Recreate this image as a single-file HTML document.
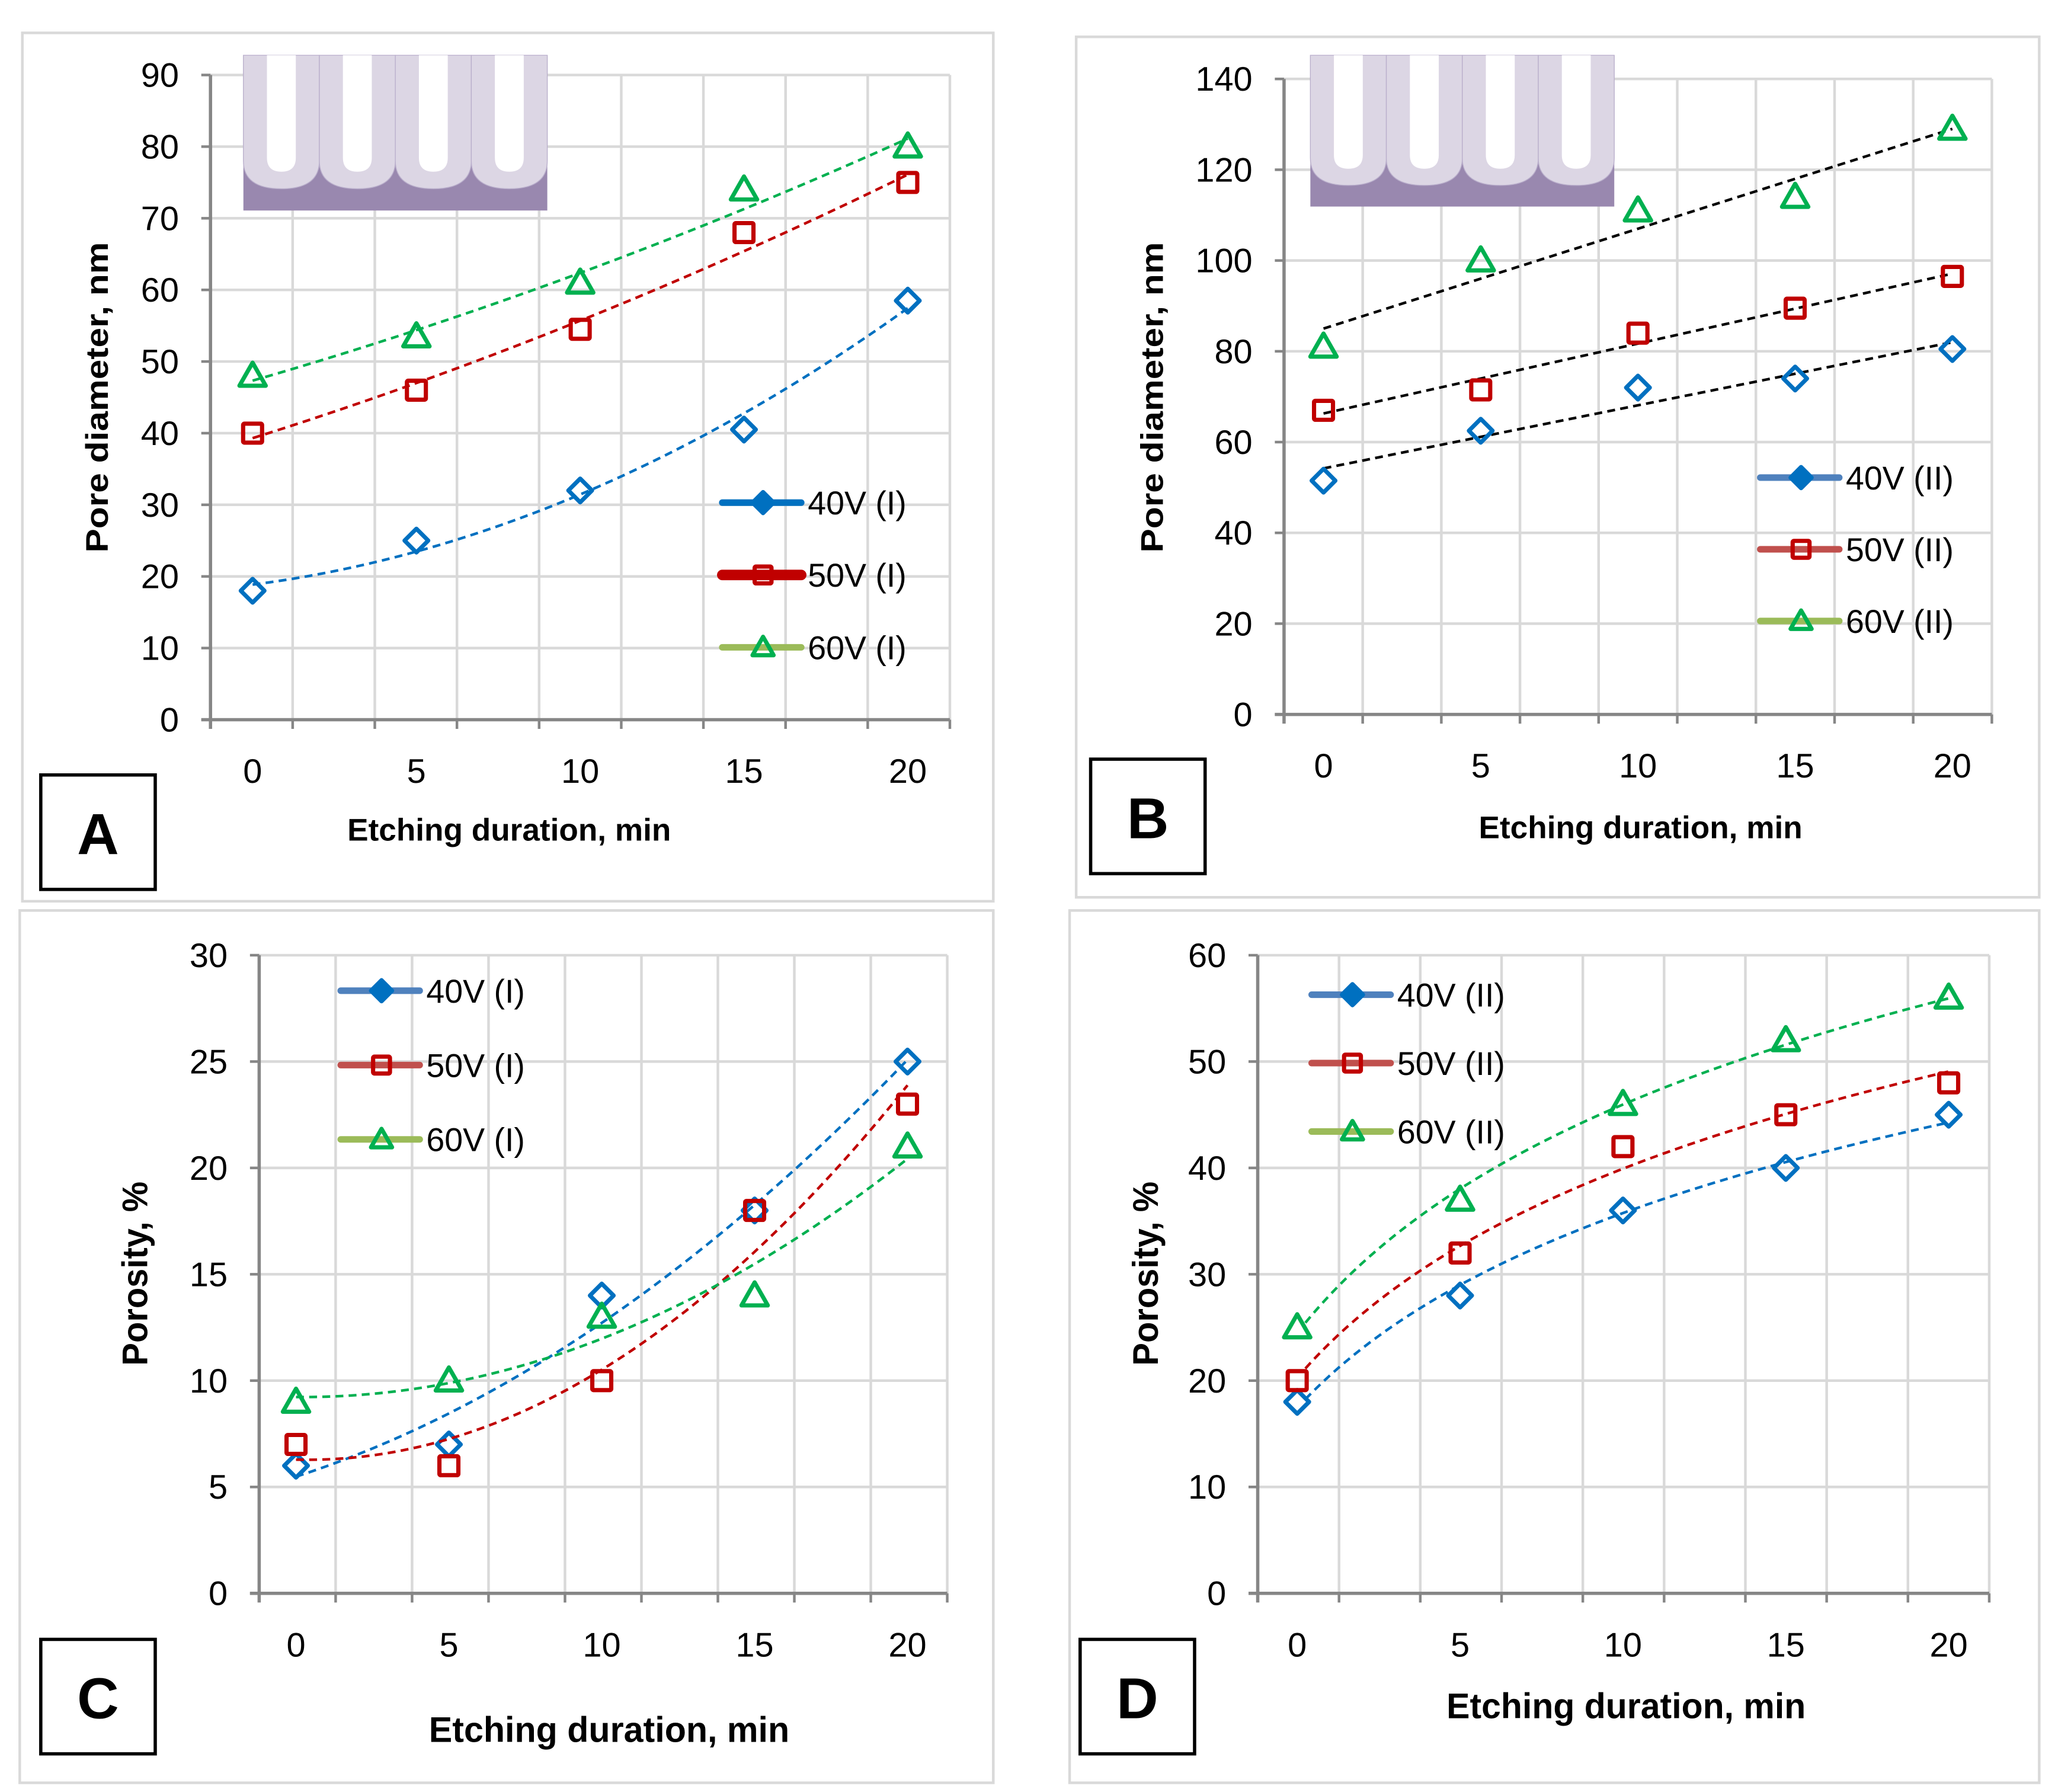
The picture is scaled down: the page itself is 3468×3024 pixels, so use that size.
<!DOCTYPE html>
<html><head><meta charset="utf-8"><style>
html,body{margin:0;padding:0;background:#fff;}
svg{display:block;}
text{font-family:"Liberation Sans","DejaVu Sans",sans-serif;}
</style></head><body>
<svg id="fig" xmlns="http://www.w3.org/2000/svg" width="3468" height="3024" viewBox="0 0 1562 1362" preserveAspectRatio="none"></svg>
<script>
// ===== data =====
const xCats = [0, 5, 10, 15, 20];
const aTicks = [0,10,20,30,40,50,60,70,80,90];
const a40 = [18, 25, 32, 40.5, 58.5];
const a50 = [40, 46, 54.5, 68, 75];
const a60 = [48, 53.5, 61, 74, 80];
const bTicks = [0,20,40,60,80,100,120,140];
const b40 = [51.5, 62.5, 72, 74, 80.5];
const b50 = [67, 71.5, 84, 89.5, 96.5];
const b60 = [81, 100, 111, 114, 129];
const cTicks = [0,5,10,15,20,25,30];
const c40 = [6, 7, 14, 18, 25];
const c50 = [7, 6, 10, 18, 23];
const c60 = [9, 10, 13, 14, 21];
const dTicks = [0,10,20,30,40,50,60];
const d40 = [18, 28, 36, 40, 45];
const d50 = [20, 32, 42, 45, 48];
const d60 = [25, 37, 46, 52, 56];
const legA = ["40V (I)", "50V (I)", "60V (I)"];
const legB = ["40V (II)", "50V (II)", "60V (II)"];

const NS = "http://www.w3.org/2000/svg";
const svg = document.getElementById('fig');
function el(tag, attrs, parent) {
  const e = document.createElementNS(NS, tag);
  for (const k in attrs) e.setAttribute(k, attrs[k]);
  (parent || svg).appendChild(e);
  return e;
}
function lsq(ys, basis) {
  const n = basis.length, M = [], v = [];
  for (let i = 0; i < n; i++) { M.push(new Array(n).fill(0)); v.push(0); }
  ys.forEach((y, k) => {
    const t = k + 1, f = basis.map(b => b(t));
    for (let i = 0; i < n; i++) { v[i] += f[i] * y; for (let j = 0; j < n; j++) M[i][j] += f[i] * f[j]; }
  });
  for (let i = 0; i < n; i++) {
    let p = i; for (let r = i + 1; r < n; r++) if (Math.abs(M[r][i]) > Math.abs(M[p][i])) p = r;
    [M[i], M[p]] = [M[p], M[i]]; [v[i], v[p]] = [v[p], v[i]];
    for (let r = 0; r < n; r++) if (r !== i) { const f = M[r][i] / M[i][i]; for (let c = 0; c < n; c++) M[r][c] -= f * M[i][c]; v[r] -= f * v[i]; }
  }
  const co = v.map((x, i) => x / M[i][i]);
  return t => basis.reduce((s, b, i) => s + co[i] * b(t), 0);
}
const POLY = [t => 1, t => t, t => t * t];
const LIN = [t => 1, t => t];
const LOG = [t => 1, t => Math.log(t)];

function marker(g, type, x, y, color, fill, s) {
  let m;
  if (type === 'd') m = el('polygon', {points: `${x},${y-s} ${x+s},${y} ${x},${y+s} ${x-s},${y}`, fill: fill, stroke: color, 'stroke-width': 3.2, 'stroke-linejoin': 'round'}, g);
  else if (type === 's') m = el('rect', {x: x-s*0.8, y: y-s*0.8, width: s*1.6, height: s*1.6, fill: fill, stroke: color, 'stroke-width': 3.2, rx: 1}, g);
  else m = el('polygon', {points: `${x},${y-s} ${x+s},${y+s*0.75} ${x-s},${y+s*0.75}`, fill: fill, stroke: color, 'stroke-width': 3.2, 'stroke-linejoin': 'round'}, g);
  return m;
}
function inset(x0, y0, w, h, name) {
  const g = el('g', {});
  
  
  el('rect', {x: x0, y: y0, width: w, height: h, fill: '#9988AF'}, g);
  const cw = w / 4;
  for (let i = 0; i < 4; i++) {
    const cx = x0 + i * cw, bot = y0 + h * 0.86;
    el('path', {d: `M${cx},${y0} H${cx+cw} V${y0+h*0.68} Q${cx+cw},${bot} ${cx+cw/2},${bot} Q${cx},${bot} ${cx},${y0+h*0.68} Z`, fill: '#DCD6E4', stroke: '#B9AECB', 'stroke-width': 0.6}, g);
    const pw = cw * 0.38, px = cx + cw / 2, pb = y0 + h * 0.75;
    el('path', {d: `M${px-pw/2},${y0} H${px+pw/2} V${y0+h*0.66} Q${px+pw/2},${pb} ${px},${pb} Q${px-pw/2},${pb} ${px-pw/2},${y0+h*0.66} Z`, fill: '#fff'}, g);
  }
}

function panel(cfg) {
  const g = el('g', {});
  
  
  el('rect', {x: cfg.frame[0], y: cfg.frame[1], width: cfg.frame[2]-cfg.frame[0], height: cfg.frame[3]-cfg.frame[1], fill: '#fff', stroke: '#D9D9D9', 'stroke-width': 2}, g);
  const [L, R, T, B] = cfg.plot;
  const ymax = cfg.ticks[cfg.ticks.length - 1];
  const ys = v => B - (v / ymax) * (B - T);
  const xs = i => cfg.x0 + i * cfg.dx;
  const ng = cfg.vgrid;
  for (let k = 1; k <= ng; k++) {
    const gx = L + (R - L) * k / ng;
    el('line', {x1: gx, y1: T, x2: gx, y2: B, stroke: '#D9D9D9', 'stroke-width': 2}, g);
    el('line', {x1: gx, y1: B, x2: gx, y2: B + 7, stroke: '#868686', 'stroke-width': 2}, g);
  }
  cfg.ticks.forEach(t => {
    const y = ys(t);
    if (t > 0) el('line', {x1: L, y1: y, x2: R, y2: y, stroke: '#D9D9D9', 'stroke-width': 2}, g);
    el('line', {x1: L - 7, y1: y, x2: L, y2: y, stroke: '#868686', 'stroke-width': 2}, g);
    const tl = el('text', {x: L - 24, y: y + 9, 'text-anchor': 'end', 'font-size': 26, fill: '#000'}, g);
    
    
    tl.textContent = t;
  });
  el('line', {x1: L, y1: T, x2: L, y2: B + 7, stroke: '#868686', 'stroke-width': 2.5}, g);
  el('line', {x1: L - 7, y1: B, x2: R, y2: B, stroke: '#868686', 'stroke-width': 2.5}, g);
  xCats.forEach((c, i) => {
    const tl = el('text', {x: xs(i), y: B + cfg.xlabOff, 'text-anchor': 'middle', 'font-size': 26, fill: '#000'}, g);
    
    
    tl.textContent = c;
  });
  const xt = el('text', {x: cfg.xtitle[0], y: cfg.xtitle[1], 'text-anchor': 'middle', 'font-size': cfg.tfs, 'font-weight': 'bold', fill: '#000', textLength: cfg.xtitle[2], lengthAdjust: 'spacingAndGlyphs'}, g);
  
  
  xt.textContent = 'Etching duration, min';
  const yt = el('text', {x: 0, y: 0, transform: `translate(${cfg.ytitle[0]},${cfg.ytitle[1]}) rotate(-90)`, 'text-anchor': 'middle', 'font-size': cfg.tfs, 'font-weight': 'bold', fill: '#000', textLength: cfg.ytitle[2], lengthAdjust: 'spacingAndGlyphs'}, g);
  
  
  yt.textContent = cfg.ytext;
  if (cfg.inset) inset(cfg.inset[0], cfg.inset[1], cfg.inset[2], cfg.inset[3], 'sem-inset');
  const types = ['d', 's', 't'];
  const mcol = ['#0070C0', '#C00000', '#00B050'];
  const tcol = cfg.trendCol;
  cfg.series.forEach((ser, si) => {
    const sg = el('g', {}, g);
    
    
    const f = lsq(ser, cfg.basis);
    const pts = [];
    const t0 = cfg.basis === LOG ? 1.05 : 1;
    for (let k = 0; k <= 80; k++) { const t = t0 + (5 - t0) * k / 80; pts.push(`${xs(t-1).toFixed(2)},${ys(f(t)).toFixed(2)}`); }
    const tr = el('polyline', {points: pts.join(' '), fill: 'none', stroke: tcol[si], 'stroke-width': 2, 'stroke-dasharray': '6,4'}, sg);
    
    
    ser.forEach((v, i) => {
      const m = marker(sg, types[si], xs(i), ys(v), mcol[si], 'none', si === 2 ? 10 : 9);
      
      
    });
  });
  const lcol = cfg.legCol;
  cfg.legend.forEach((lab, i) => {
    const lg = el('g', {}, g);
    
    
    const [lx, ly] = [cfg.leg[0], cfg.leg[1] + i * cfg.leg[2]];
    el('line', {x1: lx, y1: ly, x2: lx + 60, y2: ly, stroke: lcol[i], 'stroke-width': i === 1 && cfg.boldRed ? 8 : 5, 'stroke-linecap': 'round'}, lg);
    marker(lg, types[i], lx + 31, ly, mcol[i], i === 0 ? mcol[0] : 'none', 8);
    const t = el('text', {x: lx + 65, y: ly + 9, 'font-size': 25, fill: '#000'}, lg);
    t.textContent = lab;
  });
  const bx = cfg.box;
  el('rect', {x: bx[0], y: bx[1], width: 87, height: 87, fill: '#fff', stroke: '#000', 'stroke-width': 2.5}, g);
  const bl = el('text', {x: bx[0] + 43.5, y: bx[1] + 60, 'text-anchor': 'middle', 'font-size': 44, 'font-weight': 'bold', fill: '#000'}, g);
  
  
  bl.textContent = cfg.letter;
}

panel({name: 'panel-a', frame: [17,25,755,685], plot: [160,722,57,547], ticks: aTicks, x0: 192, dx: 124.5, vgrid: 9,
  series: [a40, a50, a60], basis: POLY, trendCol: ['#0070C0','#C00000','#00B050'], legCol: ['#0070C0','#C00000','#9BBB59'], boldRed: true,
  legend: legA, leg: [549, 382, 55], box: [31,589], letter: 'A', tfs: 24, xtitle: [387, 639, 246], ytitle: [82, 302, 236], ytext: 'Pore diameter, nm', xlabOff: 48,
  inset: [185, 42, 231, 118]});
panel({name: 'panel-b', frame: [818,28,1550,682], plot: [976,1514,60,543], ticks: bTicks, x0: 1006, dx: 119.5, vgrid: 9,
  series: [b40, b50, b60], basis: LIN, trendCol: ['#000','#000','#000'], legCol: ['#4F81BD','#C0504D','#9BBB59'],
  legend: legB, leg: [1338, 363, 54.5], box: [829,577], letter: 'B', tfs: 24, xtitle: [1247, 637, 246], ytitle: [884, 302, 236], ytext: 'Pore diameter, nm', xlabOff: 48,
  inset: [996, 42, 231, 115]});
panel({name: 'panel-c', frame: [15,692,755,1355], plot: [197,720,726,1211], ticks: cTicks, x0: 225, dx: 116.2, vgrid: 9,
  series: [c40, c50, c60], basis: POLY, trendCol: ['#0070C0','#C00000','#00B050'], legCol: ['#4F81BD','#C0504D','#9BBB59'],
  legend: legA, leg: [259, 753, 56.5], box: [31,1246], letter: 'C', tfs: 27, xtitle: [463, 1324, 274], ytitle: [112, 968, 140], ytext: 'Porosity, %', xlabOff: 48});
panel({name: 'panel-d', frame: [813,692,1550,1355], plot: [956,1512,726,1211], ticks: dTicks, x0: 986, dx: 123.8, vgrid: 9,
  series: [d40, d50, d60], basis: LOG, trendCol: ['#0070C0','#C00000','#00B050'], legCol: ['#4F81BD','#C0504D','#9BBB59'],
  legend: legB, leg: [997, 756, 52], box: [821,1246], letter: 'D', tfs: 27, xtitle: [1236, 1306, 273], ytitle: [880, 968, 140], ytext: 'Porosity, %', xlabOff: 48});
</script>
</body></html>
